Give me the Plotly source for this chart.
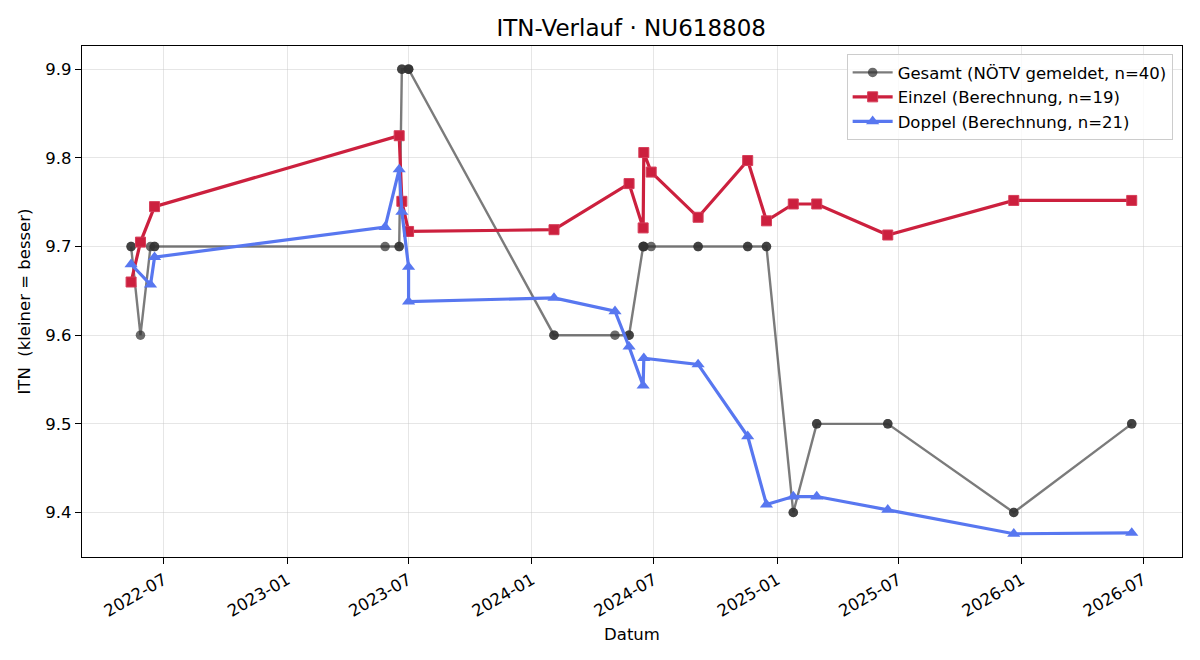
import plotly.graph_objects as go

# ---- data ----
dates_gesamt = [
    "2022-05-13", "2022-05-13", "2022-05-27", "2022-06-11", "2022-06-17", "2022-06-17",
    "2023-05-27", "2023-06-17", "2023-06-17", "2023-06-21", "2023-06-21",
    "2023-07-01", "2023-07-01", "2023-07-01",
    "2024-02-03", "2024-02-03", "2024-05-04", "2024-05-25", "2024-05-25",
    "2024-06-15", "2024-06-15", "2024-06-16", "2024-06-16", "2024-06-27",
    "2024-09-05", "2024-09-05", "2024-11-18", "2024-11-18", "2024-12-16", "2024-12-16",
    "2025-01-25", "2025-01-25", "2025-03-01", "2025-03-01", "2025-06-15", "2025-06-15",
    "2025-12-20", "2025-12-20", "2026-06-14", "2026-06-14",
]
itn_gesamt = [
    9.7, 9.7, 9.6, 9.7, 9.7, 9.7,
    9.7, 9.7, 9.7, 9.9, 9.9,
    9.9, 9.9, 9.9,
    9.6, 9.6, 9.6, 9.6, 9.6,
    9.7, 9.7, 9.7, 9.7, 9.7,
    9.7, 9.7, 9.7, 9.7, 9.7, 9.7,
    9.4, 9.4, 9.5, 9.5, 9.5, 9.5,
    9.4, 9.4, 9.5, 9.5,
]

dates_einzel = [
    "2022-05-13", "2022-05-27", "2022-06-17", "2023-06-17", "2023-06-21", "2023-07-01",
    "2024-02-03", "2024-05-25", "2024-06-15", "2024-06-16", "2024-06-27", "2024-09-05",
    "2024-11-18", "2024-12-16", "2025-01-25", "2025-03-01", "2025-06-15", "2025-12-20",
    "2026-06-14",
]
itn_einzel = [
    9.660, 9.705, 9.745, 9.825, 9.751, 9.717,
    9.719, 9.771, 9.721, 9.806, 9.784, 9.733,
    9.797, 9.729, 9.748, 9.748, 9.713, 9.752,
    9.752,
]

dates_doppel = [
    "2022-05-13", "2022-06-11", "2022-06-17", "2023-05-27", "2023-06-17", "2023-06-21",
    "2023-07-01", "2023-07-01", "2024-02-03", "2024-05-04", "2024-05-25", "2024-06-15",
    "2024-06-16", "2024-09-05", "2024-11-18", "2024-12-16", "2025-01-25", "2025-03-01",
    "2025-06-15", "2025-12-20", "2026-06-14",
]
itn_doppel = [
    9.680, 9.657, 9.688, 9.722, 9.787, 9.739,
    9.677, 9.638, 9.642, 9.627, 9.587, 9.543,
    9.574, 9.567, 9.486, 9.409, 9.418, 9.418,
    9.403, 9.376, 9.377,
]

y_ticks = [9.4, 9.5, 9.6, 9.7, 9.8, 9.9]

FONT = "DejaVu Sans"

fig = go.Figure()
fig.add_trace(go.Scatter(
    x=dates_gesamt, y=itn_gesamt, mode="lines+markers",
    name="Gesamt (NÖTV gemeldet, n=40)",
    line=dict(color="rgba(60,60,60,0.68)", width=2.4),
    marker=dict(symbol="circle", size=9.5, color="rgba(50,50,50,0.72)",
                line=dict(width=0)),
))
fig.add_trace(go.Scatter(
    x=dates_einzel, y=itn_einzel, mode="lines+markers",
    name="Einzel (Berechnung, n=19)",
    line=dict(color="rgb(204,32,62)", width=3.2),
    marker=dict(symbol="square", size=10, color="rgb(204,32,62)",
                line=dict(width=1, color="rgb(214,60,88)")),
))
fig.add_trace(go.Scatter(
    x=dates_doppel, y=itn_doppel, mode="lines+markers",
    name="Doppel (Berechnung, n=21)",
    line=dict(color="rgb(88,119,240)", width=3.2),
    marker=dict(symbol="triangle-up", size=11.5, color="rgb(88,119,240)",
                line=dict(width=0)),
))

fig.update_layout(
    width=1200, height=660,
    margin=dict(l=82, r=18, t=46, b=103),
    paper_bgcolor="white", plot_bgcolor="white",
    font=dict(family=FONT, size=16.5, color="black"),
    title=dict(text="ITN-Verlauf · NU618808", x=0.526, xanchor="center",
               y=1 - 28 / 660, yanchor="middle",
               font=dict(family=FONT, size=23, color="black")),
    legend=dict(x=0.9915, xanchor="right", y=0.984, yanchor="top",
                bgcolor="rgba(255,255,255,0.8)", bordercolor="#cccccc", borderwidth=1,
                font=dict(family=FONT, size=16.5), itemwidth=40,
                tracegroupgap=0),
    showlegend=True,
)
fig.update_xaxes(
    type="date",
    range=["2022-02-28 18:00", "2026-08-28"],
    tick0="2022-01-01", dtick="M6", tickformat="%Y-%m",
    tickangle=-30,
    ticks="outside", ticklen=6, tickwidth=1.3, tickcolor="black",
    showline=True, linecolor="black", linewidth=1.3, mirror=True,
    showgrid=True, gridcolor="rgba(200,200,200,0.45)", gridwidth=1,
    zeroline=False,
    tickfont=dict(family=FONT, size=16.5),
    title=dict(text="Datum", font=dict(family=FONT, size=16.5), standoff=8),
)
fig.update_yaxes(
    range=[9.3498, 9.9262],
    tickvals=y_ticks, tickformat=".1f",
    ticks="outside", ticklen=6, tickwidth=1.3, tickcolor="black",
    showline=True, linecolor="black", linewidth=1.3, mirror=True,
    showgrid=True, gridcolor="rgba(200,200,200,0.45)", gridwidth=1,
    zeroline=False,
    tickfont=dict(family=FONT, size=16.5),
    title=dict(text="ITN\u00a0 (kleiner = besser)", font=dict(family=FONT, size=16.5), standoff=10),
)

fig.write_html("out.html")
